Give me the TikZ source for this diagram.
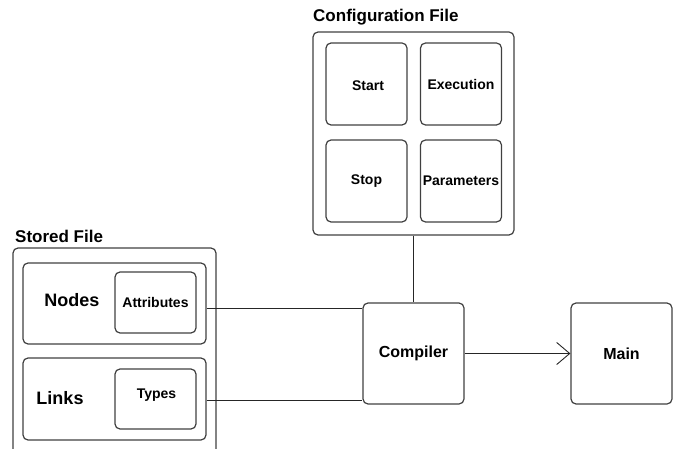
\documentclass[tikz,border=0pt]{standalone}
\usepackage{fontspec}
\setmainfont{Liberation Sans}
\usetikzlibrary{arrows.meta}
\begin{document}
\begin{tikzpicture}[x=1pt,y=-1pt,
  box/.style={draw=black!75, line width=1.2pt, rounded corners=5pt, inner sep=0pt, font=\bfseries\fontsize{14}{16}\selectfont},
  title/.style={font=\bfseries\fontsize{17}{19}\selectfont, inner sep=0pt, anchor=west},
  big/.style={font=\bfseries\fontsize{18}{20}\selectfont, inner sep=0pt},
  conn/.style={draw=black!85, line width=0.9pt}]
\useasboundingbox (0,0) rectangle (675,449);
\clip (0,0) rectangle (675,449);
% Configuration file
\node[title] (cfgtitle) at (313,17) {Configuration File};
\node[box, minimum width=201pt, minimum height=203pt] (cfg) at (413.5,133.5) {};
\node[box, minimum width=81pt, minimum height=82pt] (start) at (366.5,84) {};
\node[font=\bfseries\fontsize{14}{16}\selectfont, inner sep=0pt] (startlbl) at (368,86) {Start};
\node[box, minimum width=81pt, minimum height=82pt] (exec) at (461,84) {Execution};
\node[box, minimum width=81pt, minimum height=82pt] (stop) at (366.5,181) {Stop};
\node[box, minimum width=81pt, minimum height=82pt] (params) at (461,181) {Parameters};
% Stored file
\node[title] (sttitle) at (15,236) {Stored File};
\node[box, minimum width=203pt, minimum height=212pt] (stored) at (114.5,354) {};
\node[box, minimum width=183pt, minimum height=81pt] (nodesbox) at (114.5,303.5) {};
\node[big] (nodeslbl) at (72,300) {Nodes};
\node[box, minimum width=81pt, minimum height=61pt] (attr) at (155.5,302.5) {Attributes};
\node[box, minimum width=183pt, minimum height=82pt] (linksbox) at (114.5,399) {};
\node[big] (linkslbl) at (60,398) {Links};
\node[box, minimum width=81pt, minimum height=60pt] (types) at (155.5,399) {};
\node[font=\bfseries\fontsize{14}{16}\selectfont, inner sep=0pt] (typeslbl) at (156.5,395) {Types};
% Compiler and main
\node[box, minimum width=101pt, minimum height=101pt, font=\bfseries\fontsize{16}{18}\selectfont] (comp) at (413.5,353.5) {Compiler};
\node[box, minimum width=101pt, minimum height=101pt, font=\bfseries\fontsize{16}{18}\selectfont] (main) at (621.5,353.5) {Main};
% connectors
\draw[conn] (cfg.south) -- (cfg.south |- comp.north);
\draw[conn] ([yshift=-4.5pt]nodesbox.east) -- ([yshift=-4.5pt]nodesbox.east -| comp.west);
\draw[conn] ([yshift=-1pt]linksbox.east) -- ([yshift=-1pt]linksbox.east -| comp.west);
\draw[conn, -{Straight Barb[length=13pt,width=22pt,line width=0.9pt]}] (comp.east) -- (main.west);
\end{tikzpicture}
\end{document}
